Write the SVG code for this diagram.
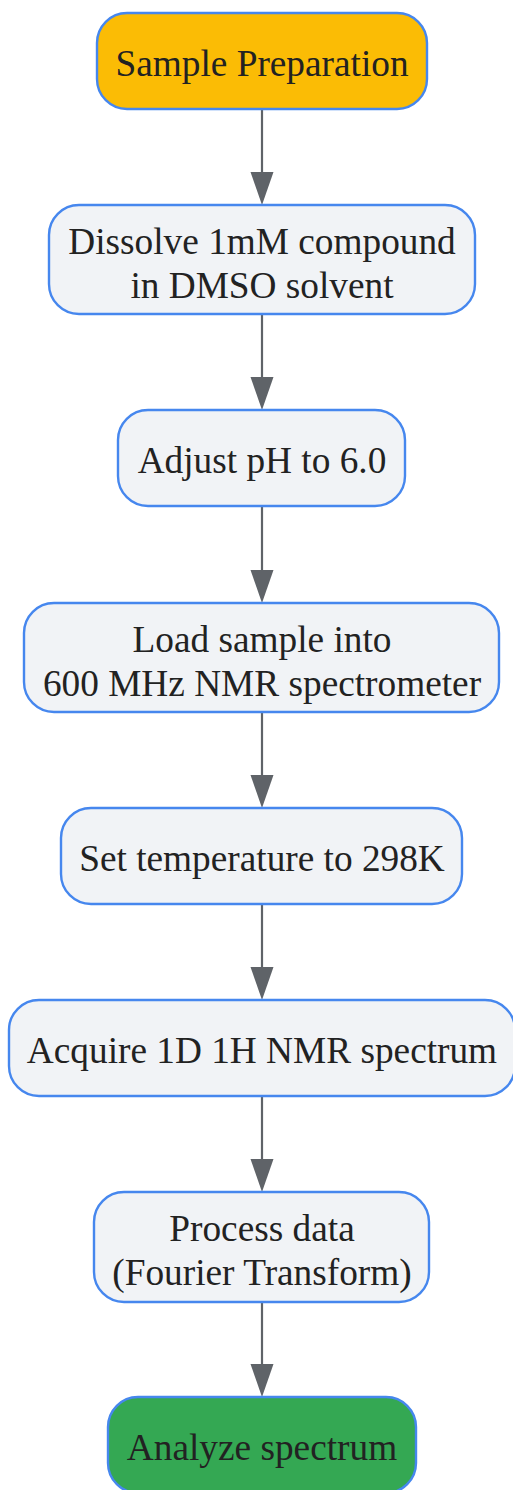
<svg xmlns="http://www.w3.org/2000/svg" width="513" height="1490" viewBox="0 0 513 1490">
<style>
.n{fill:#F1F3F6;stroke:#4687EE;stroke-width:2.4}
.t{font-family:"Liberation Serif","Times New Roman",serif;font-size:37.3px;fill:#222;text-anchor:middle}
.e{stroke:#5F6368;stroke-width:2.2;fill:none}
.h{fill:#5F6368}
</style>
<rect width="513" height="1490" fill="#fff"/>
<g id="edges">
<line class="e" x1="262" y1="109" x2="262" y2="172"/><path class="h" d="M250.5,172 L273.5,172 L262,205 Z"/>
<line class="e" x1="262" y1="314" x2="262" y2="377"/><path class="h" d="M250.5,377 L273.5,377 L262,410 Z"/>
<line class="e" x1="262" y1="506" x2="262" y2="570"/><path class="h" d="M250.5,570 L273.5,570 L262,603 Z"/>
<line class="e" x1="262" y1="712" x2="262" y2="775"/><path class="h" d="M250.5,775 L273.5,775 L262,808 Z"/>
<line class="e" x1="262" y1="904" x2="262" y2="967"/><path class="h" d="M250.5,967 L273.5,967 L262,1000 Z"/>
<line class="e" x1="262" y1="1096" x2="262" y2="1159"/><path class="h" d="M250.5,1159 L273.5,1159 L262,1192 Z"/>
<line class="e" x1="262" y1="1302" x2="262" y2="1364"/><path class="h" d="M250.5,1364 L273.5,1364 L262,1397 Z"/>
</g>
<g id="n1"><rect class="n" x="97" y="13" width="330" height="96" rx="30" style="fill:#FBBC05"/><text class="t" x="262" y="75.5">Sample Preparation</text></g>
<g id="n2"><rect class="n" x="49" y="205" width="426" height="109" rx="30"/><text class="t" x="262" y="253.5">Dissolve 1mM compound</text><text class="t" x="262" y="297.5">in DMSO solvent</text></g>
<g id="n3"><rect class="n" x="118" y="410" width="287" height="96" rx="30"/><text class="t" x="262" y="472.5">Adjust pH to 6.0</text></g>
<g id="n4"><rect class="n" x="24" y="603" width="475" height="109" rx="30"/><text class="t" x="262" y="651.5">Load sample into</text><text class="t" x="262" y="695.5">600 MHz NMR spectrometer</text></g>
<g id="n5"><rect class="n" x="61" y="808" width="401" height="96" rx="30"/><text class="t" x="262" y="870.5">Set temperature to 298K</text></g>
<g id="n6"><rect class="n" x="9" y="1000" width="506" height="96" rx="30"/><text class="t" x="262" y="1062.5">Acquire 1D 1H NMR spectrum</text></g>
<g id="n7"><rect class="n" x="94" y="1192" width="335" height="110" rx="30"/><text class="t" x="262" y="1240.5">Process data</text><text class="t" x="262" y="1284.5">(Fourier Transform)</text></g>
<g id="n8"><rect class="n" x="108" y="1397" width="308" height="96" rx="30" style="fill:#34A853"/><text class="t" x="262" y="1459.5">Analyze spectrum</text></g>
</svg>
